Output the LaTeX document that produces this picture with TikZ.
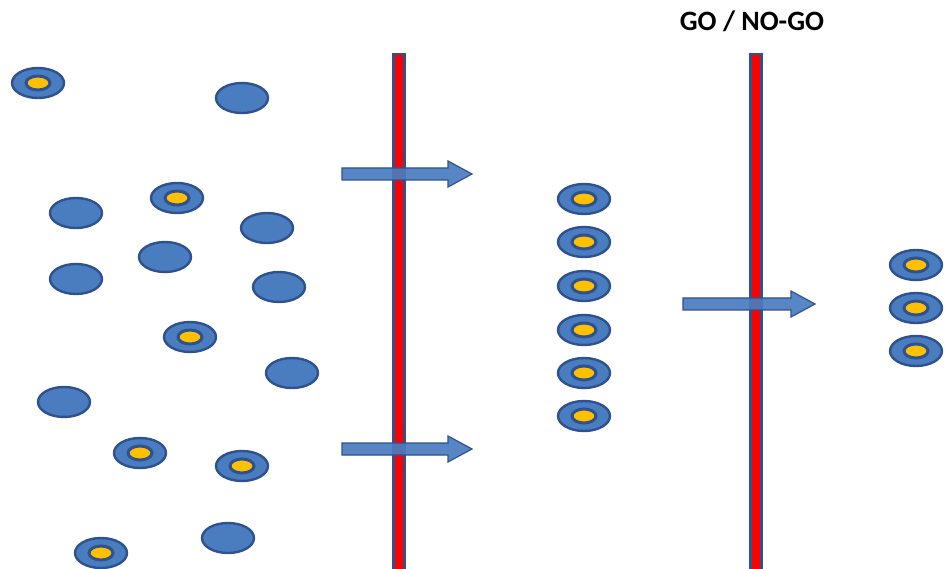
\documentclass[tikz,border=0pt]{standalone}
\usepackage{fontspec}
\setmainfont{Carlito}
\definecolor{cellblue}{HTML}{4A7CC0}
\definecolor{celledge}{HTML}{2F528F}
\definecolor{core}{HTML}{FFC000}
\definecolor{barred}{HTML}{FF0000}
\begin{document}
\begin{tikzpicture}[x=1pt,y=-1pt]
\useasboundingbox (0,0) rectangle (945,569);
\tikzset{
  cellbody/.style={fill=cellblue, draw=celledge, line width=2.4pt},
  corebody/.style={fill=core, draw=celledge, line width=3pt},
  barbody/.style={fill=barred, draw=celledge, line width=2.5pt},
  pusharrow/.style={fill=cellblue, draw=celledge, line width=1.2pt, fill opacity=0.92}
}
% plain cells
\foreach \cx/\cy in {242/98, 76/213, 267/228, 165/257, 76/279, 279/287, 292/373, 64/402, 228/538}
  \path[cellbody] (\cx,\cy) ellipse [x radius=26, y radius=15];
% cells with a yellow core
\foreach \cx/\cy in {38/83, 177/198, 190/337, 140/453, 242/466, 101/553,
                     584/199, 584/242, 584/286, 584/330, 584/373, 584/416,
                     916/265, 916/308, 916/351} {
  \path[cellbody] (\cx,\cy) ellipse [x radius=26, y radius=15];
  \path[corebody] (\cx,\cy) ellipse [x radius=12, y radius=7];
}
% barriers
\path[barbody] (393.5,54) rectangle (404.5,572);
\path[barbody] (750.5,54) rectangle (761.5,572);
% arrows crossing the barriers
\foreach \xa/\xb/\ya in {342/472/174, 342/472/449, 683/815/304}
  \path[pusharrow] (\xa,\ya-6) -- (\xb-24,\ya-6) -- (\xb-24,\ya-13) -- (\xb,\ya)
     -- (\xb-24,\ya+13) -- (\xb-24,\ya+6) -- (\xa,\ya+6) -- cycle;
\node[font=\bfseries\fontsize{28}{32}\selectfont, text=black] (gonogo) at (752,21) {GO / NO-GO};
\end{tikzpicture}
\end{document}
